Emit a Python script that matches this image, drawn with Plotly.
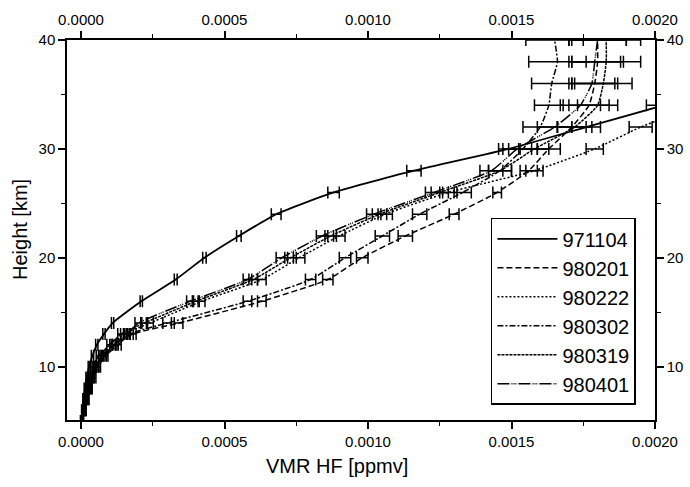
import plotly.graph_objects as go

# ---- data -------------------------------------------------------------
series_names = ["971104", "980201", "980222", "980302", "980319", "980401"]

h_971104 = [5, 6, 7, 8, 9, 10, 11, 12, 13, 14, 16, 18, 20, 22, 24, 26, 28, 30, 32, 34]
v_971104 = [0.000002, 0.000005, 0.000009, 0.000014, 0.00002, 0.000028, 0.00004,
            0.000055, 0.00008, 0.00011, 0.00021, 0.00033, 0.00043, 0.00055, 0.00068,
            0.00088, 0.00116, 0.00149, 0.00176, 0.00203]
e_971104 = [0.000002, 0.000002, 0.000003, 0.000003, 0.000003, 0.000003, 0.000004,
            0.000004, 0.000004, 0.000004, 0.000004, 0.000005, 0.000006, 0.000008,
            0.000017, 0.00002, 0.000025, 0.000035, 0.00005, 0.00006]

h_980201 = [5, 6, 7, 8, 9, 10, 11, 12, 13, 14, 16, 18, 20, 22, 24, 26, 28, 30, 32, 34, 36, 38, 40]
v_980201 = [0.000004, 0.000012, 0.00002, 0.00003, 0.00004, 0.000055, 0.00008,
            0.00012, 0.00018, 0.00034, 0.00063, 0.00086, 0.00098, 0.00113, 0.0013,
            0.00145, 0.00156, 0.00163, 0.00171, 0.00177, 0.00179, 0.0018, 0.0018]
e_980201 = [0.000004, 0.000005, 0.000006, 0.000006, 0.000007, 0.000008, 0.000009,
            0.00001, 0.000012, 0.000015, 0.000015, 0.000018, 0.00002, 0.000025,
            0.000017, 0.000015, 0.00003, 0.00004, 0.00005, 0.00007, 0.00008, 0.00009, 0.0001]

h_980222 = [5, 6, 7, 8, 9, 10, 11, 12, 13, 14, 16, 18, 20, 22, 24, 26, 28, 30, 32, 34]
v_980222 = [0.000002, 0.000008, 0.000015, 0.000024, 0.000034, 0.000047, 0.00007,
            0.00011, 0.00015, 0.00024, 0.00042, 0.00063, 0.00076, 0.0009, 0.00106,
            0.00128, 0.00158, 0.00179, 0.00195, 0.00215]
e_980222 = [0.000004, 0.000005, 0.000006, 0.000006, 0.000007, 0.000008, 0.000009,
            0.00001, 0.000012, 0.000012, 0.000012, 0.000015, 0.00002, 0.00002,
            0.000025, 0.00003, 0.00003, 0.00003, 0.00004, 0.00005]

h_980302 = [5, 6, 7, 8, 9, 10, 11, 12, 13, 14, 16, 18, 20, 22, 24, 26, 28, 30, 32, 34, 36, 38, 40]
v_980302 = [0.000005, 0.000013, 0.000022, 0.000033, 0.000045, 0.00006, 0.000085,
            0.00013, 0.00017, 0.0003, 0.00058, 0.0008, 0.00092, 0.00105, 0.00118,
            0.00133, 0.00146, 0.00154, 0.0016, 0.00163, 0.00164, 0.00166, 0.00165]
e_980302 = [0.000004, 0.000005, 0.000006, 0.000006, 0.000007, 0.000008, 0.000009,
            0.00001, 0.000012, 0.000015, 0.000015, 0.000018, 0.00002, 0.000025,
            0.000025, 0.00003, 0.00004, 0.00005, 0.00006, 0.00005, 0.00007, 0.0001, 0.0001]

h_980319 = [5, 6, 7, 8, 9, 10, 11, 12, 13, 14, 16, 18, 20, 22, 24, 26, 28, 30, 32, 34, 36, 38, 40]
v_980319 = [0.000003, 0.000007, 0.000013, 0.000021, 0.00003, 0.000042, 0.000062,
            0.0001, 0.00014, 0.00022, 0.0004, 0.0006, 0.00073, 0.00087, 0.00104,
            0.00125, 0.00146, 0.00158, 0.00172, 0.0018, 0.00182, 0.00183, 0.00183]
e_980319 = [0.000004, 0.000005, 0.000006, 0.000006, 0.000007, 0.000008, 0.000009,
            0.00001, 0.000012, 0.000012, 0.000012, 0.000015, 0.00002, 0.00002,
            0.000025, 0.00003, 0.00004, 0.00005, 0.00006, 0.00007, 0.0001, 0.00012, 0.00012]

h_980401 = [5, 6, 7, 8, 9, 10, 11, 12, 13, 14, 16, 18, 20, 22, 24, 26, 28, 30, 32, 34, 36, 38, 40]
v_980401 = [0.000004, 0.00001, 0.000018, 0.000027, 0.000038, 0.000052, 0.000075,
            0.000115, 0.00016, 0.0002, 0.00038, 0.00058, 0.0007, 0.00084, 0.00102,
            0.00123, 0.00143, 0.00152, 0.00165, 0.00174, 0.00178, 0.00179, 0.0018]
e_980401 = [0.000004, 0.000005, 0.000006, 0.000006, 0.000007, 0.000008, 0.000009,
            0.00001, 0.000012, 0.000012, 0.000012, 0.000015, 0.00002, 0.00002,
            0.000025, 0.00003, 0.00004, 0.00005, 0.00006, 0.00007, 0.00008, 0.00009, 0.0001]

x_ticks = [0.0, 0.0005, 0.001, 0.0015, 0.002]
x_tick_labels = ["0.0000", "0.0005", "0.0010", "0.0015", "0.0020"]
y_ticks = [10, 20, 30, 40]
y_tick_labels = ["10", "20", "30", "40"]
x_title = "VMR HF [ppmv]"
y_title = "Height [km]"

# ---- styling ----------------------------------------------------------
heights = [h_971104, h_980201, h_980222, h_980302, h_980319, h_980401]
values = [v_971104, v_980201, v_980222, v_980302, v_980319, v_980401]
errors = [e_971104, e_980201, e_980222, e_980302, e_980319, e_980401]
dashes = ["solid", "6px,3px", "2px,2px", "6px,2px,2px,2px", "3px,1px",
          "12px,2px,1px,1px,1px,1px,1px,2px"]
widths = [1.8, 1.5, 1.5, 1.5, 1.5, 1.5]

FONT = "Liberation Sans, Arial, sans-serif"
X_RANGE = [-0.0000488, 0.002]
Y_RANGE = [5.1, 40]

fig = go.Figure()
for name, h, v, e, d, w in zip(series_names, heights, values, errors, dashes, widths):
    fig.add_trace(go.Scatter(
        x=v, y=h, name=name, mode="lines",
        line=dict(color="black", width=w, dash=d, shape="spline", smoothing=0.5),
        error_x=dict(type="data", array=e, visible=True, color="black",
                     thickness=1.5, width=6),
        cliponaxis=True,
    ))

axis_common = dict(showline=True, linecolor="black", linewidth=1.5, mirror=False,
                   ticks="outside", ticklen=7, tickwidth=1.5, tickcolor="black",
                   showgrid=False, zeroline=False, automargin=False,
                   tickfont=dict(family=FONT, size=15, color="black"))

x_minor = dict(dtick=0.00025, tick0=0, ticks="outside", ticklen=4,
               tickwidth=1.2, tickcolor="black", showgrid=False)
y_minor = dict(dtick=5, tick0=0, ticks="outside", ticklen=4,
               tickwidth=1.2, tickcolor="black", showgrid=False)

fig.update_layout(
    width=690, height=487,
    margin=dict(l=67, r=35, t=40, b=67, autoexpand=False),
    paper_bgcolor="white", plot_bgcolor="white",
    showlegend=True,
    font=dict(family=FONT, color="black"),
    xaxis=dict(range=X_RANGE, tickvals=x_ticks, ticktext=x_tick_labels,
               minor=x_minor, **axis_common),
    yaxis=dict(range=Y_RANGE, tickvals=y_ticks, ticktext=y_tick_labels,
               minor=y_minor, **axis_common),
    xaxis2=dict(range=X_RANGE, overlaying="x", side="top", matches="x",
                tickvals=x_ticks, ticktext=x_tick_labels,
                minor=x_minor, **axis_common),
    yaxis2=dict(range=Y_RANGE, overlaying="y", side="right", matches="y",
                tickvals=y_ticks, ticktext=y_tick_labels,
                minor=y_minor, **axis_common),
    legend=dict(x=0.721, y=0.04, xanchor="left", yanchor="bottom",
                bgcolor="white", bordercolor="black", borderwidth=1.5,
                font=dict(family=FONT, size=20, color="black"),
                tracegroupgap=0, itemwidth=60),
    annotations=[
        dict(text=x_title, xref="paper", yref="paper", x=0.459, y=0,
             yshift=-46, xanchor="center", yanchor="middle", showarrow=False,
             font=dict(family=FONT, size=20, color="black")),
        dict(text=y_title, xref="paper", yref="paper", x=0, y=0.5,
             xshift=-47, textangle=-90, xanchor="center", yanchor="middle",
             showarrow=False, font=dict(family=FONT, size=20, color="black")),
    ],
)

# an invisible trace so the mirrored axes are drawn
fig.add_trace(go.Scatter(x=[0], y=[20], xaxis="x2", yaxis="y2", mode="markers",
                         marker=dict(opacity=0), showlegend=False, hoverinfo="skip"))

fig.write_html("out.html", config={"displayModeBar": False},
               post_script="document.body.style.margin='0';")
